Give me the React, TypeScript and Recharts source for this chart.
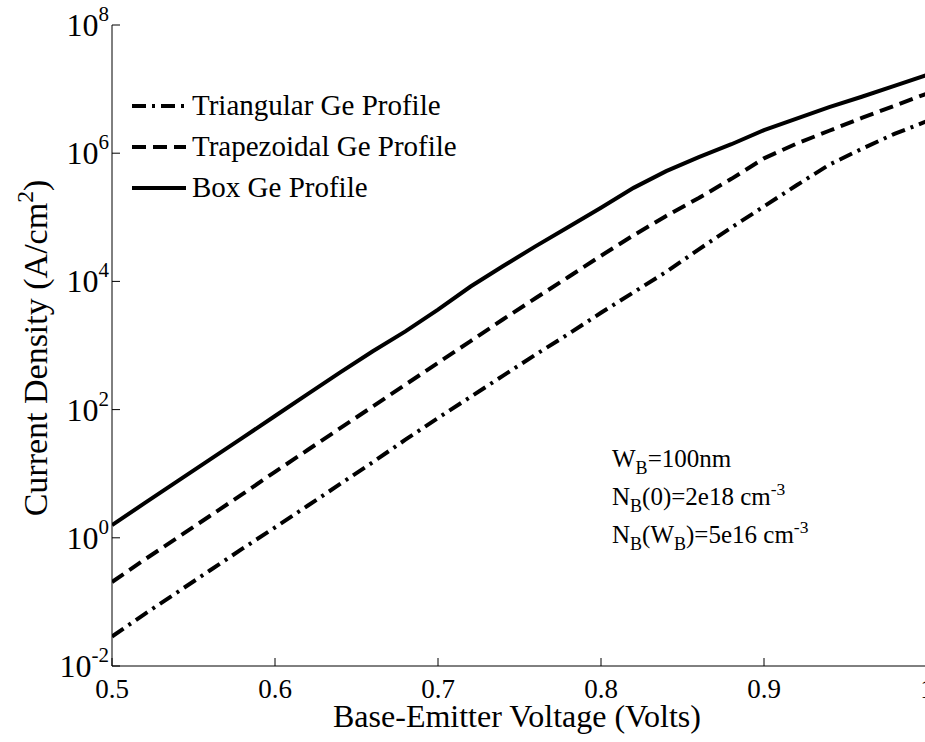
import React from 'react';
import { LineChart, Line, XAxis, YAxis } from 'recharts';

const volts = [
  0.5, 0.52, 0.54, 0.56, 0.58, 0.6, 0.62, 0.64, 0.66, 0.68, 0.7, 0.72, 0.74,
  0.76, 0.78, 0.8, 0.82, 0.84, 0.86, 0.88, 0.9, 0.92, 0.94, 0.96, 0.98, 1.0,
];

// current density, A/cm^2
const triangular = [
  0.0288, 0.0646, 0.141, 0.309, 0.676, 1.45, 3.16, 6.92, 15.1, 33.9, 74.1, 158,
  339, 724, 1510, 3240, 6760, 14100, 31600, 69200, 148000, 316000, 661000,
  1.17e6, 2.0e6, 3.16e6,
];
const trapezoidal = [
  0.204, 0.457, 1.0, 2.19, 4.79, 10.7, 23.4, 51.3, 112, 245, 537, 1170, 2570,
  5500, 11700, 25100, 52500, 105000, 200000, 398000, 832000, 1.41e6, 2.24e6,
  3.55e6, 5.5e6, 8.51e6,
];
const box = [
  1.58, 3.47, 7.59, 16.6, 36.3, 79.4, 174, 380, 813, 1660, 3630, 8320, 17400,
  35500, 70800, 141000, 288000, 525000, 871000, 1.38e6, 2.29e6, 3.47e6,
  5.25e6, 7.59e6, 1.12e7, 1.66e7,
];

const xTicks = [0.5, 0.6, 0.7, 0.8, 0.9, 1.0];
const yTicks = [1e-2, 1, 1e2, 1e4, 1e6, 1e8];

const seriesNames = ['Triangular Ge Profile', 'Trapezoidal Ge Profile', 'Box Ge Profile'];

const data = volts.map((v, i) => ({
  v,
  tri: triangular[i],
  trap: trapezoidal[i],
  box: box[i],
}));

const FONT = '"Liberation Serif", "Times New Roman", Times, serif';

const DASH_TRI = '14 6 3 6';
const DASH_TRAP = '14 7';

const subStyle: React.CSSProperties = {
  fontSize: '0.72em',
  verticalAlign: 'baseline',
  position: 'relative',
  top: '0.4em',
};
const supStyle: React.CSSProperties = {
  fontSize: '0.7em',
  verticalAlign: 'baseline',
  position: 'relative',
  top: '-0.6em',
};

const XTick = (props: any) => {
  const { x, y, payload } = props;
  const label = payload.value === 1 ? '1' : payload.value.toFixed(1);
  return (
    <text x={x} y={y} textAnchor="middle" fontFamily={FONT} fontSize={27} fill="#000">
      {label}
    </text>
  );
};

const YTick = (props: any) => {
  const { x, y, payload } = props;
  const exp = Math.round(Math.log10(payload.value));
  return (
    <text x={x} y={y + 11} textAnchor="end" fontFamily={FONT} fontSize={32} fill="#000">
      <tspan>10</tspan>
      <tspan dy={-15} fontSize={21}>{exp}</tspan>
    </text>
  );
};

const legendRows = [
  { name: seriesNames[0], dash: DASH_TRI },
  { name: seriesNames[1], dash: DASH_TRAP },
  { name: seriesNames[2], dash: undefined as string | undefined },
];

export default function App() {
  return (
    <div
      style={{
        position: 'absolute',
        left: 0,
        top: 0,
        width: 925,
        height: 742,
        overflow: 'hidden',
        background: '#fff',
      }}
    >
      <LineChart
        width={940}
        height={742}
        data={data}
        margin={{ top: 25, right: 13, bottom: 0, left: 0 }}
      >
        <XAxis
          dataKey="v"
          type="number"
          domain={[0.5, 1]}
          ticks={xTicks}
          height={76}
          tickSize={-8}
          tickMargin={40}
          tick={<XTick />}
          axisLine={{ stroke: '#000', strokeWidth: 1 }}
          tickLine={{ stroke: '#000' }}
          allowDataOverflow
        />
        <XAxis
          xAxisId="top"
          orientation="top"
          dataKey="v"
          type="number"
          domain={[0.5, 1]}
          ticks={xTicks}
          height={0}
          tickSize={-8}
          tick={false}
          axisLine={{ stroke: '#000', strokeWidth: 1 }}
          tickLine={{ stroke: '#000' }}
        />
        <YAxis
          type="number"
          scale="log"
          domain={[1e-2, 1e8]}
          ticks={yTicks}
          width={112}
          tickSize={-8}
          tickMargin={11}
          tick={<YTick />}
          axisLine={{ stroke: '#000', strokeWidth: 1 }}
          tickLine={{ stroke: '#000' }}
          allowDataOverflow
        />
        <YAxis
          yAxisId="right"
          orientation="right"
          type="number"
          scale="log"
          domain={[1e-2, 1e8]}
          ticks={yTicks}
          width={0}
          tickSize={-8}
          tick={false}
          axisLine={{ stroke: '#000', strokeWidth: 1 }}
          tickLine={{ stroke: '#000' }}
        />
        <Line
          dataKey="tri"
          name={seriesNames[0]}
          stroke="#000"
          strokeWidth={4}
          strokeDasharray={DASH_TRI}
          dot={false}
          type="linear"
          isAnimationActive={false}
        />
        <Line
          dataKey="trap"
          name={seriesNames[1]}
          stroke="#000"
          strokeWidth={4}
          strokeDasharray={DASH_TRAP}
          dot={false}
          type="linear"
          isAnimationActive={false}
        />
        <Line
          dataKey="box"
          name={seriesNames[2]}
          stroke="#000"
          strokeWidth={4}
          dot={false}
          type="linear"
          isAnimationActive={false}
        />
      </LineChart>

      {/* legend */}
      <div
        style={{
          position: 'absolute',
          left: 130,
          top: 85,
          fontFamily: FONT,
          fontSize: 29,
          color: '#000',
        }}
      >
        {legendRows.map((r) => (
          <div key={r.name} style={{ display: 'flex', alignItems: 'center', height: 41 }}>
            <svg width={58} height={10} style={{ marginRight: 4 }}>
              <line x1={2} y1={5} x2={56} y2={5} stroke="#000" strokeWidth={4} strokeDasharray={r.dash} />
            </svg>
            <span>{r.name}</span>
          </div>
        ))}
      </div>

      {/* y axis title */}
      <div
        style={{
          position: 'absolute',
          left: 36,
          top: 348,
          transform: 'translate(-50%, -50%) rotate(-90deg)',
          whiteSpace: 'nowrap',
          fontFamily: FONT,
          fontSize: 34,
          lineHeight: 1,
        }}
      >
        Current Density (A/cm<span style={supStyle}>2</span>)
      </div>

      {/* x axis title */}
      <div
        style={{
          position: 'absolute',
          left: 517,
          top: 705,
          transform: 'translateX(-50%)',
          whiteSpace: 'nowrap',
          fontFamily: FONT,
          fontSize: 32,
          lineHeight: '22px',
        }}
      >
        Base-Emitter Voltage (Volts)
      </div>

      {/* parameters */}
      <div
        style={{
          position: 'absolute',
          left: 612,
          top: 441,
          fontFamily: FONT,
          fontSize: 25,
          lineHeight: '35px',
          whiteSpace: 'nowrap',
        }}
      >
        <div>
          W<span style={subStyle}>B</span>=100nm
        </div>
        <div>
          N<span style={subStyle}>B</span>(0)=2e18 cm<span style={supStyle}>-3</span>
        </div>
        <div>
          N<span style={subStyle}>B</span>(W<span style={subStyle}>B</span>)=5e16 cm<span style={supStyle}>-3</span>
        </div>
      </div>
    </div>
  );
}
